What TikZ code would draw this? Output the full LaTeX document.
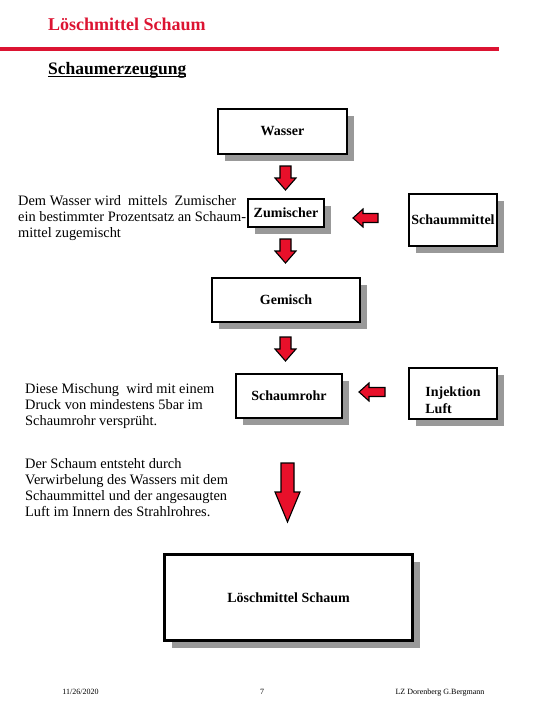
\documentclass[tikz,border=0pt]{standalone}
\usepackage{fontspec}
\setmainfont{Liberation Serif}
\usetikzlibrary{shadows,calc}
\definecolor{brandred}{HTML}{DC1432}
\definecolor{arrowred}{HTML}{E8102A}
\definecolor{shadowgray}{HTML}{999999}
\tikzset{
  box/.style={draw=black, line width=2pt, fill=white, inner sep=0pt,
    font=\bfseries\fontsize{14}{16}\selectfont,
    drop shadow={shadow xshift=7pt, shadow yshift=-7pt, opacity=1, fill=shadowgray}},
  blockarr/.style={draw=black, line width=1.1pt, fill=arrowred, line join=miter},
  bodytext/.style={anchor=north west, inner sep=0pt, align=left,
    font=\fontsize{14.4}{16}\selectfont},
  foot/.style={anchor=base, inner sep=0pt, font=\fontsize{8}{9}\selectfont}
}
\newcommand\blkdown[6]{% cx, top, bottom, shaft half, head half, head length
  \draw[blockarr] ({#1-#4},#2) -- ({#1+#4},#2) -- ({#1+#4},{#3-#6}) -- ({#1+#5},{#3-#6})
    -- (#1,#3) -- ({#1-#5},{#3-#6}) -- ({#1-#4},{#3-#6}) -- cycle;}
\newcommand\blkleft[6]{% left tip x, right x, cy, shaft half, head half, head length
  \draw[blockarr] (#2,{#3-#4}) -- (#2,{#3+#4}) -- ({#1+#6},{#3+#4}) -- ({#1+#6},{#3+#5})
    -- (#1,#3) -- ({#1+#6},{#3-#5}) -- ({#1+#6},{#3-#4}) -- cycle;}
\begin{document}
\begin{tikzpicture}[x=1pt,y=-1pt]
\useasboundingbox (0,0) rectangle (540,720);

% header
\node[anchor=base west, inner sep=0pt, text=brandred,
  font=\bfseries\fontsize{18}{20}\selectfont] (title) at (48,30) {Löschmittel Schaum};
\coordinate (rl) at (0,48.7);
\coordinate (rr) at (499,48.7);
\draw[brandred, line width=4pt] (rl) -- (rr);
\node[anchor=base west, inner sep=0pt,
  font=\bfseries\fontsize{17.5}{20}\selectfont] (sub) at (48,74) {Schaumerzeugung};
\draw[line width=1.2pt] ([yshift=-2.5pt]sub.base west) -- ([yshift=-2.5pt]sub.base east);

% boxes
\node[box, minimum width=129pt, minimum height=45pt] (wasser) at (282.5,131.5) {Wasser};
\node[box, minimum width=76pt, minimum height=28pt] (zumischer) at (286,213) {Zumischer};
\node[box, minimum width=88pt, minimum height=52pt] (schaummittel) at (453,220) {Schaummittel};
\node[box, minimum width=148pt, minimum height=44pt] (gemisch) at (286,300) {Gemisch};
\node[box, minimum width=106pt, minimum height=44pt] (schaumrohr) at (289,396) {Schaumrohr};
\node[box, minimum width=88pt, minimum height=51pt] (injektion) at (453,393.5) {};
\node[inner sep=0pt, align=left, font=\bfseries\fontsize{14}{17}\selectfont]
  (injtext) at (453,400) {Injektion\\Luft};
\node[box, line width=3pt, minimum width=248pt, minimum height=86pt] (loesch) at (288.5,597.5) {Löschmittel Schaum};

% block arrows
\blkdown{285.5}{166}{190}{5.5}{10.5}{12}
\blkdown{285.5}{239}{263}{5.5}{10.5}{12}
\blkdown{285.5}{337}{361}{5.5}{10.5}{12}
\blkleft{353}{378}{218}{4.5}{9}{10}
\blkleft{359}{385}{392}{4.5}{9}{10}
\blkdown{287.5}{463}{522}{6.5}{12.5}{30}

% explanatory texts
\node[bodytext] (t1) at (18,195) {Dem Wasser wird\ \ mittels\ \ Zumischer\\ein bestimmter Prozentsatz an Schaum-\\mittel zugemischt};
\node[bodytext] (t2) at (25,383) {Diese Mischung\ \ wird mit einem\\Druck von mindestens 5bar im\\Schaumrohr versprüht.};
\node[bodytext] (t3) at (25,458) {Der Schaum entsteht durch\\Verwirbelung des Wassers mit dem\\Schaummittel und der angesaugten\\Luft im Innern des Strahlrohres.};

% footer
\node[foot] (date) at (80.5,694) {11/26/2020};
\node[foot] (page) at (262,694) {7};
\node[foot] (author) at (440,694) {LZ Dorenberg G.Bergmann};
\end{tikzpicture}
\end{document}
